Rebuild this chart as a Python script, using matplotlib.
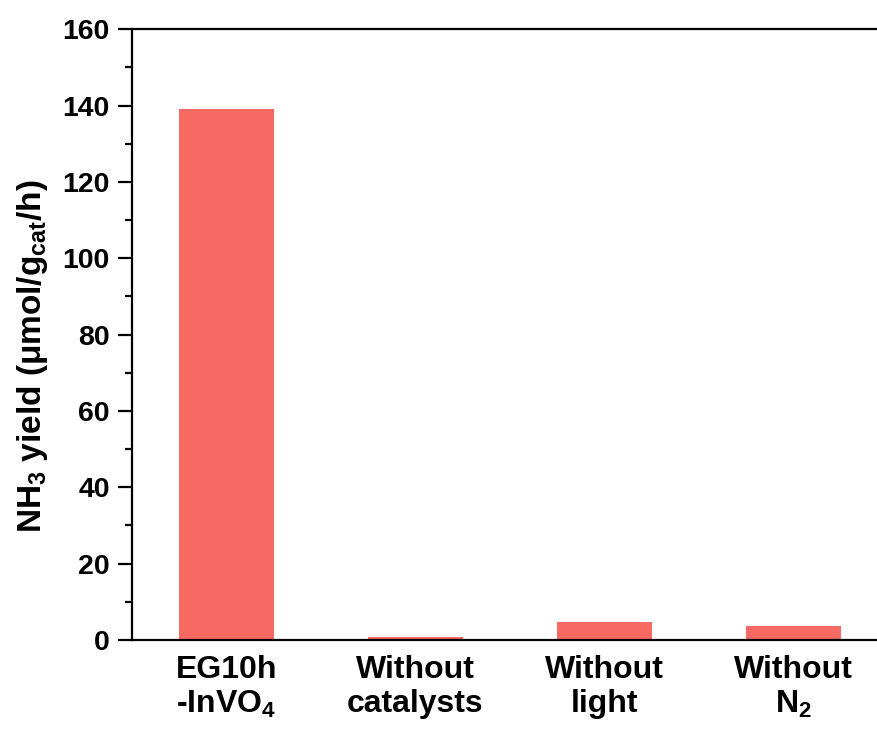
import matplotlib
matplotlib.use("Agg")
import matplotlib.pyplot as plt
from matplotlib.ticker import MultipleLocator

plt.rcParams['font.family'] = ['Liberation Sans', 'DejaVu Sans']
plt.rcParams['font.weight'] = 'bold'
plt.rcParams['mathtext.fontset'] = 'custom'
plt.rcParams['mathtext.rm'] = 'Liberation Sans:bold'
plt.rcParams['mathtext.it'] = 'Liberation Sans:bold'
plt.rcParams['mathtext.bf'] = 'Liberation Sans:bold'
plt.rcParams['mathtext.default'] = 'rm'

categories = ["EG10h\n-InVO$_4$", "Without\ncatalysts", "Without\nlight", "Without\nN$_2$"]
nh3_yield = [139.0, 0.8, 4.8, 3.6]
y_ticks = [0, 20, 40, 60, 80, 100, 120, 140, 160]

fig = plt.figure(figsize=(8.77, 7.31), dpi=100)
ax = fig.add_axes([0.1505, 0.1245, 0.862, 0.8355])

x = range(len(categories))
ax.bar(x, nh3_yield, width=0.5, color='#F76A63')

ax.set_xlim(-0.5, 3.5)
ax.set_ylim(0, 160)
ax.set_yticks(y_ticks)
ax.yaxis.set_minor_locator(MultipleLocator(10))
ax.set_xticks(list(x))
ax.set_xticklabels(categories, fontsize=23, fontweight='bold', linespacing=1.15)
ax.tick_params(axis='y', which='major', direction='out', length=10, width=1.6,
               labelsize=20.5, pad=6)
ax.tick_params(axis='y', which='minor', direction='out', length=5, width=1.6)
ax.tick_params(axis='x', which='major', length=0, pad=11)

for side in ('left', 'bottom', 'top'):
    ax.spines[side].set_linewidth(1.6)
ax.spines['right'].set_visible(False)

ax.set_ylabel("NH$_3$ yield (μmol/g$_{cat}$/h)", fontsize=24, fontweight='bold')
ax.yaxis.set_label_coords(-0.108, 0.465)

fig.savefig("out.png", dpi=100)
